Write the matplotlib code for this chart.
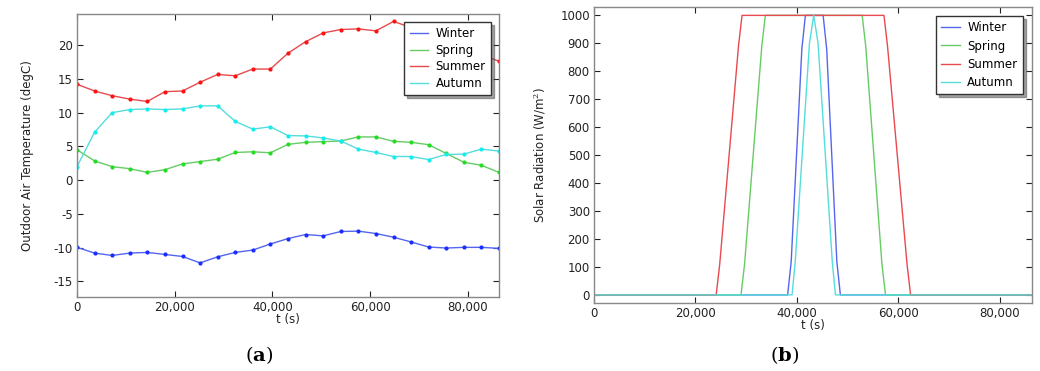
import matplotlib
matplotlib.use("Agg")
import matplotlib.pyplot as plt
from matplotlib.ticker import FuncFormatter, MultipleLocator

# ---------------- data ----------------
seasons = ["Winter", "Spring", "Summer", "Autumn"]
hours_s = [h * 3600 for h in range(25)]

temp_winter = [-9.95, -10.8, -11.15, -10.8, -10.7, -11.0, -11.3, -12.25, -11.35, -10.7,
               -10.35, -9.45, -8.65, -8.05, -8.25, -7.6, -7.55, -7.9, -8.45, -9.15,
               -9.9, -10.05, -9.95, -9.95, -10.1]
temp_spring = [4.5, 2.85, 2.0, 1.7, 1.15, 1.55, 2.4, 2.75, 3.1, 4.1,
               4.2, 4.05, 5.3, 5.6, 5.7, 5.8, 6.4, 6.4, 5.75, 5.6,
               5.25, 3.95, 2.65, 2.2, 1.15]
temp_summer = [14.2, 13.2, 12.5, 12.0, 11.65, 13.1, 13.2, 14.5, 15.65, 15.45,
               16.45, 16.45, 18.8, 20.5, 21.8, 22.3, 22.4, 22.1, 23.5, 22.6,
               21.6, 20.6, 19.6, 18.6, 17.6]
temp_autumn = [2.0, 7.1, 10.0, 10.45, 10.55, 10.45, 10.55, 11.0, 11.0, 8.7,
               7.55, 7.9, 6.6, 6.55, 6.25, 5.8, 4.6, 4.1, 3.5, 3.5,
               3.05, 3.8, 3.85, 4.6, 4.3]

# solar radiation breakpoints (t in s, W/m2)
sol_winter_t = [0, 38200, 38900, 41000, 41700, 45200, 45900, 47900, 48600, 86400]
sol_winter_v = [0, 0, 120, 880, 1000, 1000, 880, 120, 0, 0]
sol_spring_t = [0, 29000, 29700, 33100, 33800, 52900, 53600, 56800, 57500, 86400]
sol_spring_v = [0, 0, 110, 890, 1000, 1000, 890, 110, 0, 0]
sol_summer_t = [0, 24100, 24800, 28500, 29200, 57200, 57900, 61750, 62450, 86400]
sol_summer_v = [0, 0, 110, 890, 1000, 1000, 890, 110, 0, 0]
sol_autumn_t = [0, 39070, 39700, 42500, 43340, 44200, 47000, 47630, 86400]
sol_autumn_v = [0, 0, 120, 900, 1000, 900, 120, 0, 0]

line_colors = ["#5566ee", "#66cc66", "#e84a4f", "#55dddd"]
mark_colors = ["#1a2cff", "#22dd22", "#ff1111", "#11eeee"]

temps = [temp_winter, temp_spring, temp_summer, temp_autumn]
sol_t = [sol_winter_t, sol_spring_t, sol_summer_t, sol_autumn_t]
sol_v = [sol_winter_v, sol_spring_v, sol_summer_v, sol_autumn_v]

# ---------------- figure ----------------
plt.rcParams["font.family"] = ["DejaVu Sans"]
plt.rcParams["mathtext.fontset"] = "dejavuserif"
plt.rcParams["axes.unicode_minus"] = False
W, H = 1040, 371
fig = plt.figure(figsize=(W / 100, H / 100), dpi=100)

def box(x0, y0, x1, y1):
    return [x0 / W, 1 - y1 / H, (x1 - x0) / W, (y1 - y0) / H]

ax1 = fig.add_axes(box(77, 14, 499, 297))
ax2 = fig.add_axes(box(594, 7, 1032, 303))

comma = FuncFormatter(lambda v, p: f"{int(v):,}")
fs = 8.5

for ax in (ax1, ax2):
    ax.set_xlim(0, 86400)
    ax.xaxis.set_major_locator(MultipleLocator(20000))
    ax.xaxis.set_major_formatter(comma)
    ax.tick_params(direction="in", top=True, right=True, length=4, width=0.8,
                   labelsize=fs, colors="#222222", pad=3)
    for s in ax.spines.values():
        s.set_color("#888888")
        s.set_linewidth(1.0)
    ax.set_xlabel("t (s)", fontsize=fs, labelpad=-1, color="#222222")

legkw = dict(loc="upper right", fontsize=fs, fancybox=False, shadow=True,
             framealpha=1, handlelength=1.6, handletextpad=0.6,
             borderpad=0.45, labelspacing=0.3, borderaxespad=0)

# left panel
for name, vals, lc, mc in zip(seasons, temps, line_colors, mark_colors):
    ax1.plot(hours_s, vals, color=lc, lw=1.0, label=name)
    ax1.plot(hours_s, vals, linestyle="none", marker="o", markersize=2.0,
             markerfacecolor=mc, markeredgecolor=mc)
ax1.set_ylim(-17.3, 24.6)
ax1.yaxis.set_major_locator(MultipleLocator(5))
ax1.set_ylabel("Outdoor Air Temperature (degC)", fontsize=fs, color="#222222",
               labelpad=14)
leg1 = ax1.legend(bbox_to_anchor=(0.981, 0.972), **legkw)
leg1.get_frame().set_edgecolor("#333333")

# right panel
for name, tt, vv, lc in zip(seasons, sol_t, sol_v, line_colors):
    ax2.plot(tt, vv, color=lc, lw=1.0, label=name)
ax2.set_ylim(-29, 1030)
ax2.yaxis.set_major_locator(MultipleLocator(100))
ax2.set_ylabel("Solar Radiation (W/m$^2$)", fontsize=fs, color="#222222",
               labelpad=9)
leg2 = ax2.legend(bbox_to_anchor=(0.979, 0.970), labelspacing=0.45,
                  **{k: v for k, v in legkw.items() if k != "labelspacing"})
leg2.get_frame().set_edgecolor("#333333")

fig.text(259 / W, 1 - 355 / H, r"($\mathbf{a}$)", ha="center", va="center",
         fontsize=14, family="DejaVu Serif")
fig.text(785 / W, 1 - 355 / H, r"($\mathbf{b}$)", ha="center", va="center",
         fontsize=14, family="DejaVu Serif")

fig.savefig("out.png", dpi=100)
